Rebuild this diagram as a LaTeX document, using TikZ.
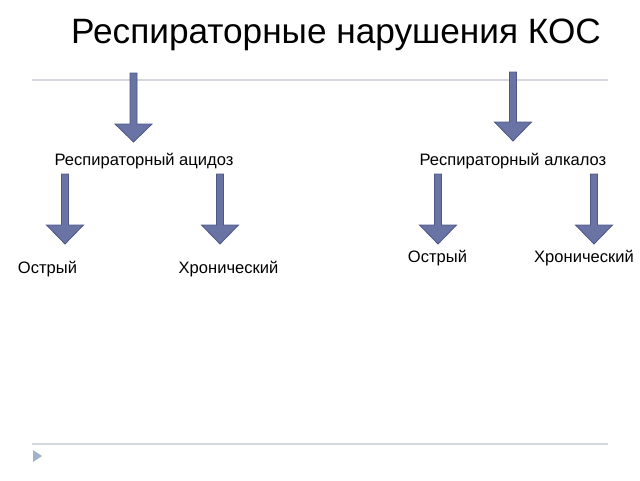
\documentclass[tikz,border=0pt]{standalone}
\usepackage{fontspec}
\setmainfont{Liberation Sans}
\definecolor{arrfill}{RGB}{106,116,164}
\definecolor{arrdraw}{RGB}{78,88,136}
\definecolor{rule}{RGB}{212,215,222}
\definecolor{marker}{RGB}{160,178,206}
\newcommand\DArrow[4]{\draw[blockarr] (#1-3.5,#2) -- (#1+3.5,#2) -- (#1+3.5,#3) -- (#1+18.5,#3) -- (#1,#4) -- (#1-18.5,#3) -- (#1-3.5,#3) -- cycle;}
\begin{document}
\begin{tikzpicture}[x=0.75pt,y=-0.75pt,
  blockarr/.style={fill=arrfill,draw=arrdraw,line width=0.6pt,line join=miter},
  titletxt/.style={font=\fontsize{26.4}{30}\selectfont,inner sep=0pt},
  lbl/.style={font=\fontsize{12.4}{14}\selectfont,inner sep=0pt},
  rulestyle/.style={draw=rule,line width=1.4pt}]
\useasboundingbox[fill=white] (0,0) rectangle (640,480);
\node[titletxt] (title) at (336,35) {Респираторные нарушения КОС};
\coordinate (rl) at (32,80); \coordinate (rr) at (608,80);
\draw[rulestyle] (rl) -- (rr);
\coordinate (bl) at (32,444); \coordinate (br) at (608,444);
\draw[rulestyle] (bl) -- (br);
\fill[marker] (33,450) -- (42,456) -- (33,462) -- cycle;
\DArrow{133.5}{73}{124}{142}
\DArrow{513}{72}{122}{141}
\node[lbl] (acid) at (144,161) {Респираторный ацидоз};
\node[lbl] (alk) at (513,161) {Респираторный алкалоз};
\DArrow{65}{174}{225}{244}
\DArrow{220}{174}{225}{244}
\DArrow{438}{174}{225}{244}
\DArrow{594}{174}{225}{244}
\node[lbl] (acA) at (47.5,269) {Острый};
\node[lbl] (acC) at (228.5,269) {Хронический};
\node[lbl] (alA) at (437.5,258) {Острый};
\node[lbl] (alC) at (584,258) {Хронический};
\end{tikzpicture}
\end{document}
